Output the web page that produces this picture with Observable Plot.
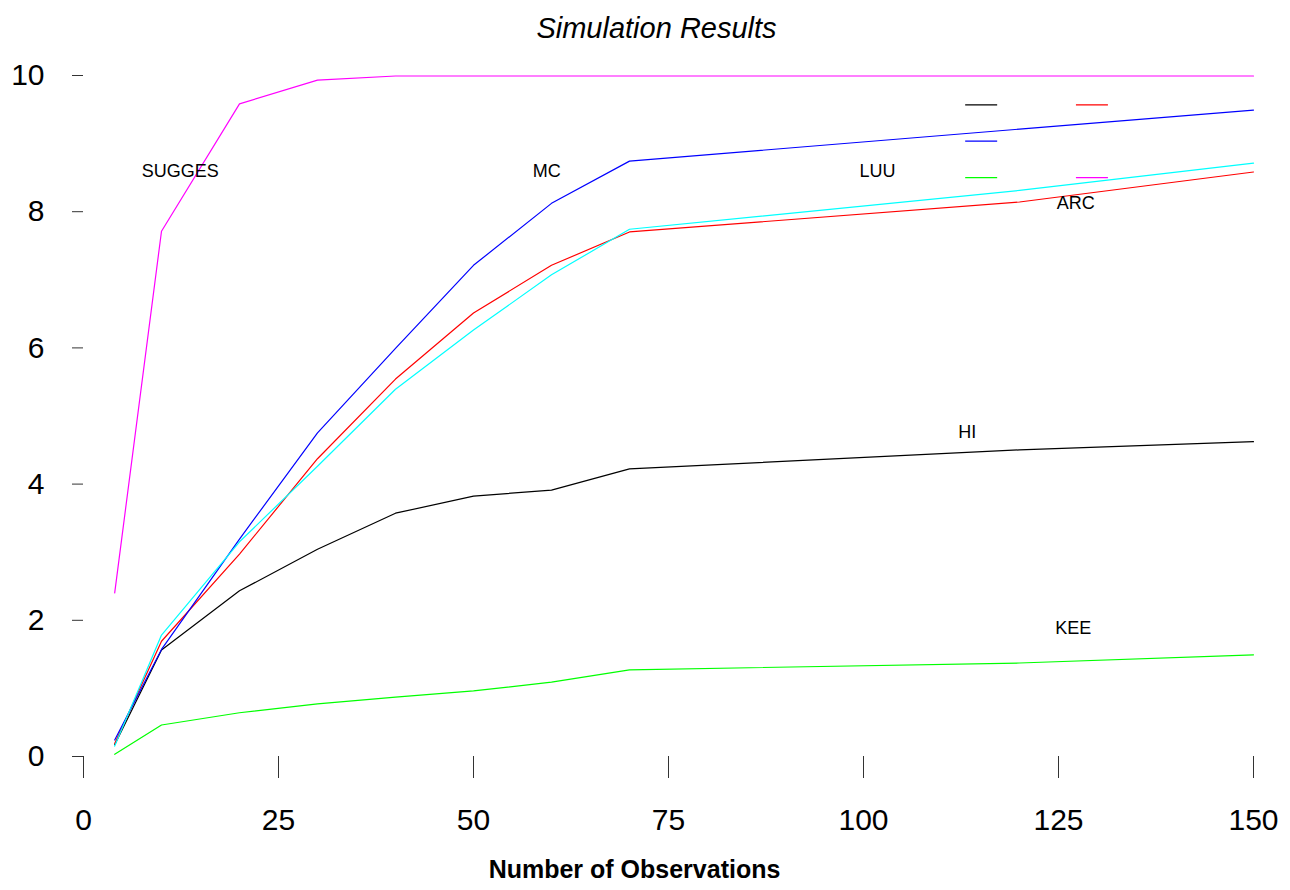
<!DOCTYPE html>
<html>
<head>
<meta charset="utf-8">
<script src="https://cdn.jsdelivr.net/npm/d3@7"></script>
<script src="https://cdn.jsdelivr.net/npm/@observablehq/plot@0.6"></script>
<style>
  html, body { margin: 0; padding: 0; background: #fff; }
  #chart { width: 1290px; height: 890px; }
</style>
</head>
<body>
<div id="chart"></div>
<script>
// ---- data ----
const titleText = "Simulation Results";
const xLabelText = "Number of Observations";

const obs = [4, 10, 20, 30, 40, 50, 60, 70, 120, 150];

const seriesNames = ["HI", "ARC", "MC", "LUU", "KEE", "SUGGES"];
const seriesColors = ["#000000", "#ff0000", "#0000ff", "#00ffff", "#00ff00", "#ff00ff"];

const hiValues     = [0.18, 1.57, 2.44, 3.05, 3.58, 3.83, 3.92, 4.23, 4.51, 4.63];
const arcValues    = [0.20, 1.70, 2.98, 4.38, 5.55, 6.52, 7.22, 7.71, 8.15, 8.59];
const mcValues     = [0.25, 1.58, 3.20, 4.76, 6.00, 7.22, 8.13, 8.75, 9.22, 9.50];
const luuValues    = [0.16, 1.79, 3.16, 4.27, 5.40, 6.27, 7.08, 7.75, 8.32, 8.72];
const keeValues    = [0.04, 0.47, 0.65, 0.78, 0.88, 0.97, 1.10, 1.28, 1.38, 1.50];
const suggesValues = [2.41, 7.72, 9.59, 9.94, 10.0, 10.0, 10.0, 10.0, 10.0, 10.0];

const xTicks = [0, 25, 50, 75, 100, 125, 150];
const yTicks = [0, 2, 4, 6, 8, 10];

// text annotations (data coordinates)
const annoLabels = ["SUGGES", "MC", "LUU", "ARC", "HI", "KEE"];
const annoX      = [12.4, 59.4, 101.8, 127.2, 113.3, 126.9];
const annoY      = [8.6, 8.6, 8.6, 8.13, 4.76, 1.88];

// ---- build tables ----
const valuesBySeries = [hiValues, arcValues, mcValues, luuValues, keeValues, suggesValues];
const rows = [];
seriesNames.forEach((s, i) => {
  obs.forEach((x, j) => rows.push({series: s, x, y: valuesBySeries[i][j]}));
});
const annos = annoLabels.map((t, i) => ({text: t, x: annoX[i], y: annoY[i]}));

// legend keys: 2 columns x 3 rows, cyan key not drawn in the reference
const legendRows = seriesNames.map((s, i) => {
  const col = i % 2, row = Math.floor(i / 2);
  const x1 = 113.1 + col * 14.2;
  return {series: s, x1, x2: x1 + 4.1, y: 9.57 - row * 0.535};
}).filter(d => d.series !== "LUU");

const font = "'Liberation Sans', Arial, Helvetica, sans-serif";

const chart = Plot.plot({
  width: 1290,
  height: 890,
  marginLeft: 83,
  marginRight: 37,
  marginTop: 75,
  marginBottom: 134,
  style: {fontFamily: font, background: "#fff", color: "#000", overflow: "visible"},
  x: {domain: [0, 150]},
  y: {domain: [0, 10]},
  color: {domain: seriesNames, range: seriesColors},
  marks: [
    Plot.axisX({ticks: xTicks, tickSize: 22, tickPadding: 30, fontSize: 30, stroke: "#333", label: null, tickFormat: d => String(d)}),
    Plot.axisY({ticks: yTicks, tickSize: 11, tickPadding: 28, fontSize: 30, stroke: "#333", label: null, textAnchor: "end", tickFormat: d => String(d)}),
    Plot.line(rows, {x: "x", y: "y", z: "series", stroke: "series", strokeWidth: 1.2, dy: 0.5}),
    Plot.ruleY(legendRows, {x1: "x1", x2: "x2", y: "y", stroke: "series", strokeWidth: 1.2}),
    Plot.text(annos, {x: "x", y: "y", text: "text", fontSize: 18, fill: "#000"}),
    Plot.text([titleText], {frameAnchor: "top", dy: -58, dx: -12, fontSize: 29, fontStyle: "italic", fill: "#000"}),
    Plot.text([xLabelText], {frameAnchor: "bottom", dy: 121, dx: -34, fontSize: 25, fontWeight: "bold", fill: "#000"})
  ]
});
document.getElementById("chart").appendChild(chart);
</script>
</body>
</html>
